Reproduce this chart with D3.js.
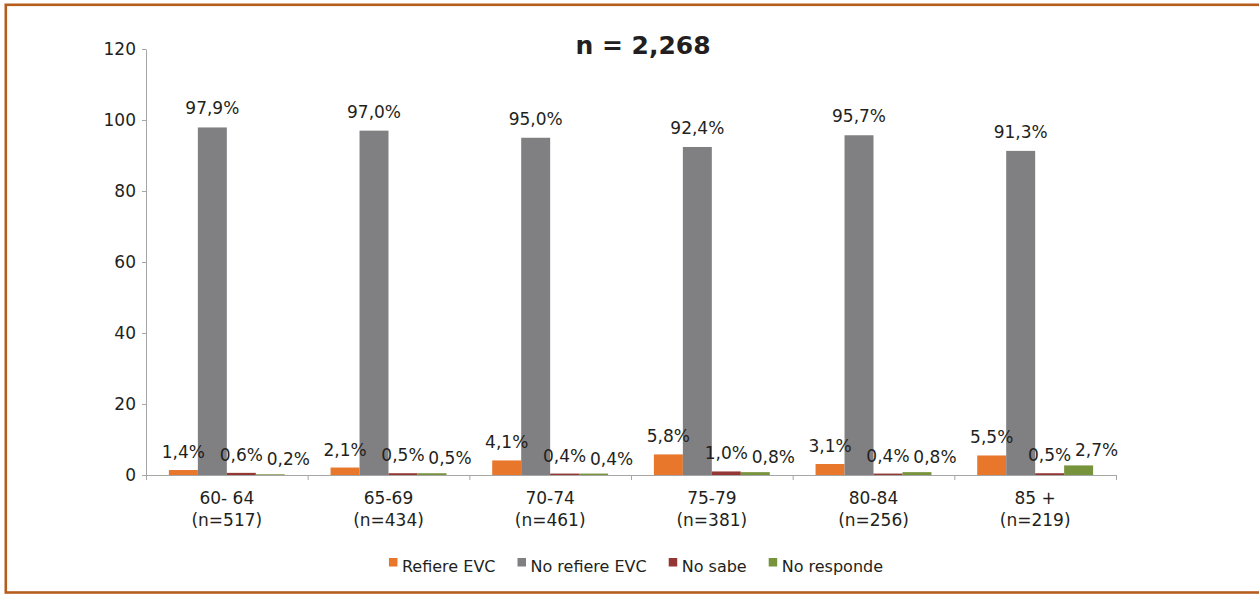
<!DOCTYPE html>
<html>
<head>
<meta charset="utf-8">
<script src="https://cdn.jsdelivr.net/npm/d3@7"></script>
<style>
  html, body { margin: 0; padding: 0; background: #fff; }
  svg { display: block; }
  text { font-family: "DejaVu Sans", sans-serif; fill: #231f20; }
</style>
</head>
<body>
<svg id="chart" width="1259" height="595"></svg>
<script>
const title = "n = 2,268";
const categories = ["60- 64", "65-69", "70-74", "75-79", "80-84", "85 +"];
const categoryN = ["(n=517)", "(n=434)", "(n=461)", "(n=381)", "(n=256)", "(n=219)"];
const seriesNames = ["Refiere EVC", "No refiere EVC", "No sabe", "No responde"];
const refiere = [1.4, 2.1, 4.1, 5.8, 3.1, 5.5];
const noRefiere = [97.9, 97.0, 95.0, 92.4, 95.7, 91.3];
const noSabe = [0.6, 0.5, 0.4, 1.0, 0.4, 0.5];
const noResponde = [0.2, 0.5, 0.4, 0.8, 0.8, 2.7];
const yTicks = [0, 20, 40, 60, 80, 100, 120];

const seriesValues = [refiere, noRefiere, noSabe, noResponde];
const colors = ["#E8762B", "#808083", "#943634", "#77933C"];
const labelDx = [0, 0, 0, 18];
const labelDy = [-12, -13, -12, -9];

const svg = d3.select("#chart");

// frame
svg.append("rect")
  .attr("x", 5.8).attr("y", 4.8)
  .attr("width", 1270).attr("height", 587.7)
  .attr("fill", "none")
  .attr("stroke", "#B65D1D")
  .attr("stroke-width", 2.6);

const plotLeft = 146, plotRight = 1116, plotTop = 49, plotBottom = 475;

const y = d3.scaleLinear().domain([0, 120]).range([plotBottom, plotTop]);
const x0 = d3.scaleBand().domain(categories).range([plotLeft, plotRight]).paddingInner(0).paddingOuter(0);
const x1 = d3.scaleBand().domain(seriesNames).range([0, x0.bandwidth()]).paddingInner(0).paddingOuter(0.79);

// y axis
const yAxis = svg.append("g")
  .attr("transform", `translate(${plotLeft},0)`)
  .call(d3.axisLeft(y).tickValues(yTicks).tickSize(4).tickSizeOuter(0).tickPadding(6).tickFormat(d3.format("d")));
yAxis.select(".domain").attr("stroke", "#A6A6A6");
yAxis.selectAll(".tick line").attr("stroke", "#A6A6A6");
yAxis.selectAll(".tick text").attr("font-size", 17).attr("font-family", "DejaVu Sans").attr("fill", "#231f20");

// bars
const groups = svg.append("g").selectAll("g")
  .data(categories)
  .join("g")
  .attr("transform", d => `translate(${x0(d)},0)`);

groups.each(function(cat, ci) {
  const g = d3.select(this);
  seriesNames.forEach((s, si) => {
    const v = seriesValues[si][ci];
    g.append("rect")
      .attr("x", x1(s))
      .attr("y", y(v))
      .attr("width", x1.bandwidth())
      .attr("height", y(0) - y(v))
      .attr("fill", colors[si]);
  });
});

// x axis
const xAxisG = svg.append("g");
xAxisG.append("line")
  .attr("x1", plotLeft).attr("x2", plotRight)
  .attr("y1", plotBottom + 0.5).attr("y2", plotBottom + 0.5)
  .attr("stroke", "#A6A6A6");
const boundaries = categories.map(c => x0(c)).concat([x0(categories[categories.length - 1]) + x0.bandwidth()]);
xAxisG.selectAll("line.tk")
  .data(boundaries)
  .join("line")
  .attr("class", "tk")
  .attr("x1", d => d + 0.5).attr("x2", d => d + 0.5)
  .attr("y1", plotBottom).attr("y2", plotBottom + 5)
  .attr("stroke", "#A6A6A6");

// category labels
const catLabels = svg.append("g").selectAll("text")
  .data(categories)
  .join("text")
  .attr("text-anchor", "middle")
  .attr("font-size", 17)
  .attr("x", d => x0(d) + x0.bandwidth() / 2)
  .attr("y", 504);
catLabels.append("tspan").text(d => d);
catLabels.append("tspan")
  .attr("x", d => x0(d) + x0.bandwidth() / 2)
  .attr("dy", 22)
  .text((d, i) => categoryN[i]);

// value labels
const fmt = v => d3.format(".1f")(v).replace(".", ",") + "%";
groups.each(function(cat, ci) {
  const g = d3.select(this);
  seriesNames.forEach((s, si) => {
    const v = seriesValues[si][ci];
    g.append("text")
      .attr("text-anchor", "middle")
      .attr("font-size", 17)
      .attr("x", x1(s) + x1.bandwidth() / 2 + labelDx[si])
      .attr("y", y(v) + labelDy[si])
      .text(fmt(v));
  });
});

// title
svg.append("text")
  .attr("x", 643).attr("y", 54)
  .attr("text-anchor", "middle")
  .attr("font-size", 25)
  .attr("font-weight", "bold")
  .text(title);

// legend
const legend = svg.append("g");
let lx = 0;
seriesNames.forEach((s, i) => {
  const it = legend.append("g").attr("transform", `translate(${lx},0)`);
  it.append("rect").attr("x", 0).attr("y", 558).attr("width", 8.5).attr("height", 8.5).attr("fill", colors[i]);
  const t = it.append("text").attr("x", 13).attr("y", 572).attr("font-size", 16).text(s);
  const w = t.node().getComputedTextLength();
  lx += 13 + w + 22;
});
const totalW = lx - 22;
legend.attr("transform", `translate(${636 - totalW / 2},0)`);
</script>
</body>
</html>
